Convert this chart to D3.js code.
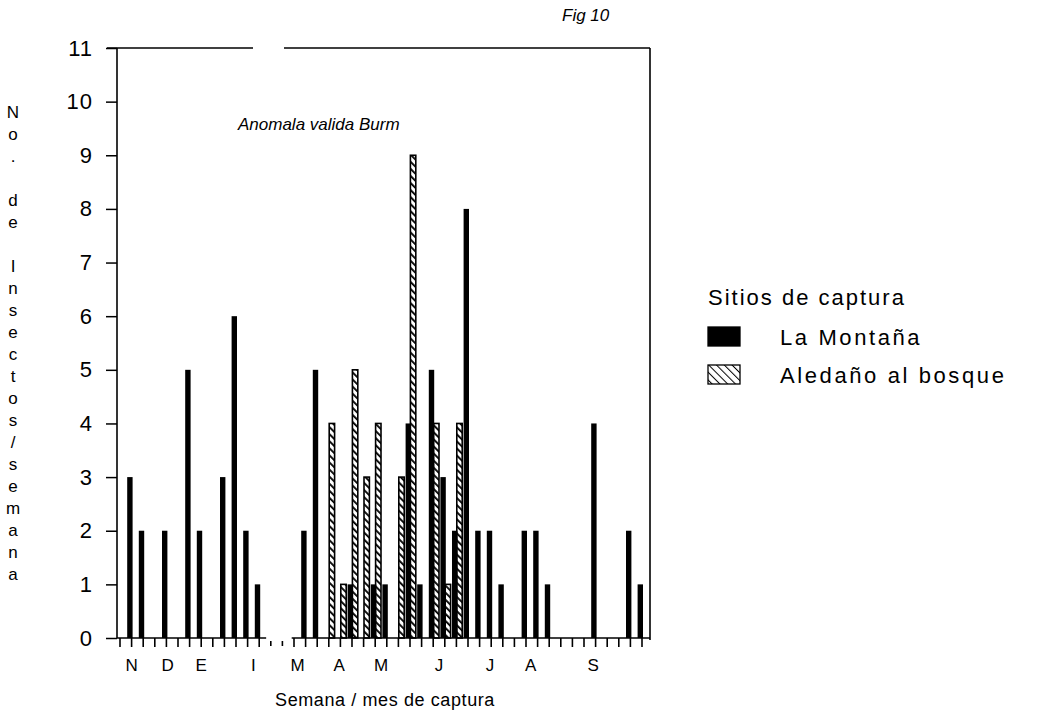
<!DOCTYPE html>
<html>
<head>
<meta charset="utf-8">
<script src="https://cdn.jsdelivr.net/npm/d3@7"></script>
<style>
  body { margin: 0; background: #fff; }
  svg { display: block; font-family: "Liberation Sans", Arial, sans-serif; }
</style>
</head>
<body>
<div id="chart"></div>
<script>
// semanas de captura (indice 0..45, de noviembre a septiembre)
const weeks = d3.range(46);

// No. de insectos por semana
const montana = [0,3,2,0,2,0,5,2,0,3,6,2,1,0,0,0,2,5,0,0,1,0,1,1,0,4,1,5,3,2,8,2,2,1,0,2,2,1,0,0,0,4,0,0,2,1];
const bosque  = [0,0,0,0,0,0,0,0,0,0,0,0,0,0,0,0,0,0,4,1,5,3,4,0,3,9,0,4,1,4,0,0,0,0,0,0,0,0,0,0,0,0,0,0,0,0];

const seriesNames = ["La Montaña", "Aledaño al bosque"];
const monthLabels = ["N","D","E","I","M","A","M","J","J","A","S"];
const monthWeeks  = [1, 4.1, 7, 11.5, 15.3, 18.9, 22.5, 27.5, 31.9, 35.4, 40.8];
const yTicks = d3.range(0, 12);
const yLabel = ["N","o",".","","d","e","","I","n","s","e","c","t","o","s","/","s","e","m","a","n","a"];

const W = 1049, H = 723;
const svg = d3.select("#chart").append("svg").attr("width", W).attr("height", H);

const defs = svg.append("defs");
// rayado denso para las barras angostas, mas abierto para la leyenda
[["hatchBar", 5, 3.7], ["hatch", 5.5, 2]].forEach(([id, step, sw]) => {
  defs.append("pattern")
      .attr("id", id)
      .attr("patternUnits", "userSpaceOnUse")
      .attr("width", step).attr("height", step)
      .attr("patternTransform", "rotate(-45)")
    .append("line")
      .attr("x1", 0).attr("y1", 0).attr("x2", 0).attr("y2", step)
      .attr("stroke", "#000").attr("stroke-width", sw);
});

const x = d3.scaleBand().domain(weeks).range([114.2, 647.8]).padding(0);
const xPos = d3.scaleLinear().domain([0, 45]).range([120, 642]);
const xSub = d3.scaleBand().domain(seriesNames).range([-4.4, 5.2]);
const y = d3.scaleLinear().domain([0, 11]).range([638, 48]);

const axisX = 117, right = 650;

// barras
const g = svg.append("g");
const barW = 5.4;
g.selectAll(".bosque")
  .data(weeks.filter(d => bosque[d] > 0))
  .enter().append("rect")
    .attr("class", "bosque")
    .attr("x", d => x(d) + x.bandwidth() / 2 + xSub(seriesNames[1]))
    .attr("width", barW)
    .attr("y", d => y(bosque[d]))
    .attr("height", d => y(0) - y(bosque[d]))
    .attr("fill", "url(#hatchBar)")
    .attr("stroke", "#000").attr("stroke-width", 1.6);

g.selectAll(".montana")
  .data(weeks.filter(d => montana[d] > 0))
  .enter().append("rect")
    .attr("class", "montana")
    .attr("x", d => x(d) + x.bandwidth() / 2 + xSub(seriesNames[0]))
    .attr("width", barW)
    .attr("y", d => y(montana[d]))
    .attr("height", d => y(0) - y(montana[d]))
    .attr("fill", "#000");

// eje Y
const yAxis = svg.append("g")
    .attr("transform", `translate(${axisX},0)`)
    .call(d3.axisLeft(y).tickValues(yTicks).tickSize(11).tickPadding(13));
yAxis.select(".domain").remove();
yAxis.selectAll("line").attr("stroke", "#000").attr("stroke-width", 1.5);
yAxis.selectAll("text").attr("font-size", 22).attr("fill", "#000")
    .attr("letter-spacing", 1)
    .attr("font-family", "'Liberation Sans', Arial, sans-serif");

// eje X (semanas)
const xAxis = svg.append("g")
    .attr("transform", `translate(0,${y(0)})`)
    .call(d3.axisBottom(x).tickValues(weeks).tickSize(9).tickFormat(""));
xAxis.select(".domain").remove();
xAxis.selectAll("line").attr("stroke", "#000").attr("stroke-width", 1.6);
xAxis.selectAll(".tick").filter(d => d === 13 || d === 14)
  .select("line").attr("y1", 3).attr("y2", 8);

// marco
const frame = svg.append("g").attr("stroke", "#000").attr("stroke-width", 1.6).attr("fill", "none");
frame.append("line").attr("x1", axisX).attr("x2", axisX).attr("y1", y(11)).attr("y2", y(0));
frame.append("line").attr("x1", right).attr("x2", right).attr("y1", y(11)).attr("y2", y(0) + 2);
frame.append("line").attr("x1", 107).attr("x2", 253).attr("y1", y(11)).attr("y2", y(11));
frame.append("line").attr("x1", 284).attr("x2", right).attr("y1", y(11)).attr("y2", y(11));
frame.append("line").attr("x1", axisX).attr("x2", xPos(12.6)).attr("y1", y(0)).attr("y2", y(0));
frame.append("line").attr("x1", xPos(14.8)).attr("x2", right).attr("y1", y(0)).attr("y2", y(0));

// meses
svg.append("g").selectAll("text")
  .data(monthLabels)
  .enter().append("text")
    .attr("x", (d, i) => xPos(monthWeeks[i]))
    .attr("y", 671)
    .attr("text-anchor", "middle")
    .attr("font-size", 17)
    .text(d => d);

svg.append("text")
    .attr("x", 385).attr("y", 706)
    .attr("text-anchor", "middle")
    .attr("font-size", 18)
    .attr("letter-spacing", 0.6)
    .text("Semana / mes de captura");

// etiqueta Y, letra por letra
svg.append("g").selectAll("text")
  .data(yLabel)
  .enter().append("text")
    .attr("x", 13)
    .attr("y", (d, i) => 118 + i * 22)
    .attr("text-anchor", "middle")
    .attr("font-size", 17)
    .text(d => d);

// titulos
svg.append("text")
    .attr("x", 238).attr("y", 130)
    .attr("font-size", 17).attr("font-style", "italic")
    .text("Anomala valida Burm");

svg.append("text")
    .attr("x", 562).attr("y", 21)
    .attr("font-size", 17).attr("font-style", "italic")
    .text("Fig 10");

// leyenda
const leg = svg.append("g").attr("transform", "translate(708,0)");
leg.append("text").attr("x", 0).attr("y", 305).attr("font-size", 22)
    .attr("letter-spacing", 2).text("Sitios de captura");
const items = leg.selectAll(".item")
  .data(seriesNames)
  .enter().append("g")
    .attr("class", "item")
    .attr("transform", (d, i) => `translate(0,${327 + i * 38})`);
items.append("rect")
    .attr("width", 32).attr("height", 19)
    .attr("fill", (d, i) => i === 0 ? "#000" : "url(#hatch)")
    .attr("stroke", "#000").attr("stroke-width", 1.3);
items.append("text")
    .attr("x", 72).attr("y", 18)
    .attr("font-size", 22)
    .attr("letter-spacing", 2.6)
    .text(d => d);
</script>
</body>
</html>
